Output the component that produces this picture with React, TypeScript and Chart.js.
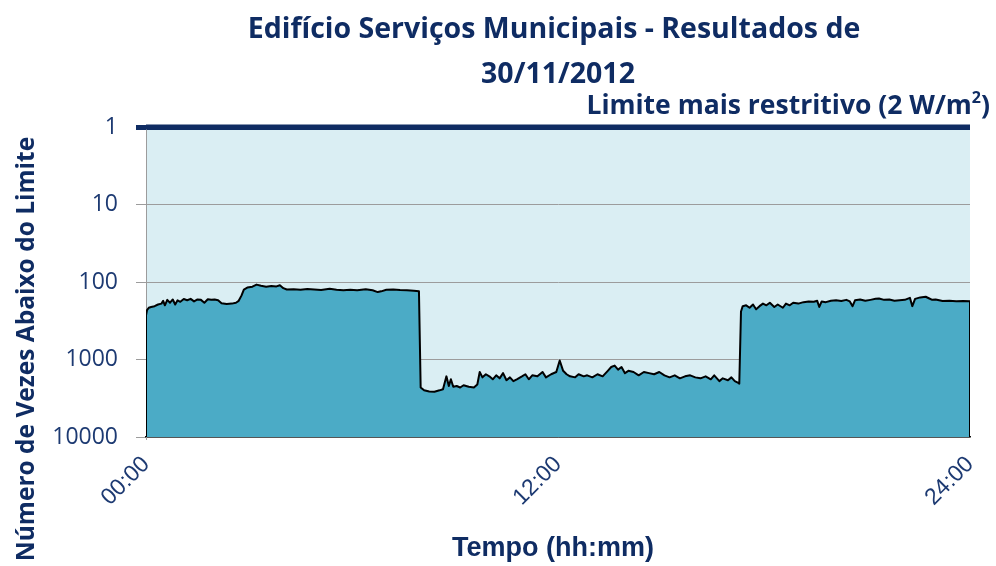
import React, { useEffect, useRef } from "react";
import { Chart, registerables } from "chart.js";

Chart.register(...registerables);

// ---- data ----
const TITLE_LINES = ["Edifício Serviços Municipais - Resultados de", "30/11/2012"];
const LIMIT_LABEL = "Limite mais restritivo (2 W/m";
const LIMIT_SUP = "2";
const LIMIT_TAIL = ")";
const Y_TITLE = "Número de Vezes Abaixo do Limite";
const X_TITLE = "Tempo (hh:mm)";

const X_TICKS = [0, 12, 24];
const X_TICK_LABELS = ["00:00", "12:00", "24:00"];
const Y_TICKS = [1, 10, 100, 1000, 10000];
const LIMIT = 1;

// time in hours
const TIMES = [
  0.0, 0.03, 0.08, 0.15, 0.25, 0.35, 0.45, 0.5, 0.55, 0.62, 0.7, 0.78, 0.85, 0.92, 1.0, 1.1, 1.2, 1.3, 1.4, 1.5,
  1.6, 1.7, 1.8, 1.9, 2.0, 2.1, 2.2, 2.35, 2.5, 2.62, 2.7, 2.78, 2.85, 2.95, 3.1, 3.22, 3.35, 3.5, 3.65, 3.8,
  3.9, 4.0, 4.1, 4.3, 4.5, 4.7, 4.9, 5.1, 5.35, 5.55, 5.75, 5.95, 6.15, 6.4, 6.6, 6.75, 6.85, 7.0, 7.2, 7.4,
  7.6, 7.8, 7.95, 8.0, 8.1, 8.25, 8.4, 8.55, 8.65, 8.75, 8.82, 8.88, 8.95, 9.05, 9.15, 9.25, 9.4, 9.55, 9.65, 9.72,
  9.8, 9.9, 10.0, 10.1, 10.2, 10.3, 10.4, 10.5, 10.6, 10.7, 10.8, 10.95, 11.05, 11.15, 11.25, 11.4, 11.55, 11.65, 11.8, 11.95,
  12.05, 12.15, 12.25, 12.35, 12.5, 12.6, 12.75, 12.85, 13.0, 13.15, 13.3, 13.45, 13.55, 13.65, 13.75, 13.85, 13.95, 14.05, 14.2, 14.35,
  14.5, 14.65, 14.8, 14.95, 15.1, 15.25, 15.4, 15.55, 15.7, 15.85, 16.0, 16.15, 16.3, 16.45, 16.55, 16.7, 16.8, 16.95, 17.05, 17.15,
  17.25, 17.28, 17.33, 17.38, 17.48, 17.58, 17.68, 17.77, 17.87, 17.97, 18.07, 18.17, 18.3, 18.4, 18.55, 18.64, 18.75, 18.85, 19.0, 19.15,
  19.3, 19.45, 19.55, 19.61, 19.68, 19.8, 19.95, 20.1, 20.25, 20.4, 20.5, 20.58, 20.65, 20.8, 20.95, 21.1, 21.25, 21.35, 21.5, 21.65,
  21.8, 21.95, 22.1, 22.25, 22.32, 22.4, 22.55, 22.71, 22.8, 22.9, 23.0, 23.2, 23.4, 23.6, 23.8, 24.0,
];

const VALUES = [
  270, 230, 215, 210, 205, 195, 190, 175, 200, 170, 185, 168, 195, 172, 180, 166, 172, 165, 178, 168,
  170, 185, 167, 170, 168, 172, 188, 192, 190, 185, 175, 150, 125, 118, 115, 108, 112, 115, 113, 114,
  110, 120, 125, 124, 126, 123, 125, 127, 122, 126, 128, 126, 128, 124, 128, 135, 132, 126, 125, 127,
  128, 130, 132, 2300, 2500, 2580, 2600, 2500, 2420, 1650, 2200, 1800, 2250, 2200, 2300, 2150, 2250, 2300, 2100, 1450,
  1700, 1550, 1650, 1800, 1600, 1750, 1500, 1850, 1700, 1900, 1800, 1650, 1550, 1800, 1600, 1650, 1450, 1700, 1550, 1450,
  1030, 1400, 1550, 1650, 1700, 1550, 1650, 1600, 1700, 1550, 1650, 1400, 1250, 1200, 1350, 1250, 1500, 1400, 1450, 1600,
  1450, 1500, 1550, 1450, 1600, 1700, 1600, 1750, 1650, 1600, 1700, 1750, 1650, 1800, 1600, 1900, 1750, 1850, 1700, 1900,
  2000, 2050, 240, 205, 200, 215, 195, 225, 205, 190, 200, 185, 210, 195, 215, 190, 200, 185, 190, 182,
  178, 180, 175, 210, 178, 182, 175, 172, 176, 170, 178, 205, 172, 168, 175, 170, 165, 163, 170, 168,
  175, 172, 170, 160, 205, 165, 158, 155, 162, 170, 168, 176, 175, 177, 176, 177,
];

const NAVY = "#0f2c63";
const TICK_NAVY = "#1d3a72";
const FILL = "#4babc6";
const PLOT_BG = "#daeef3";
const GRID = "#9c9c9c";

const textPlugin = {
  id: "texts",
  beforeDraw(chart: any) {
    const { ctx, chartArea } = chart;
    ctx.save();
    ctx.fillStyle = PLOT_BG;
    ctx.fillRect(chartArea.left, chartArea.top, chartArea.right - chartArea.left, chartArea.bottom - chartArea.top);
    ctx.restore();
  },
  afterDraw(chart: any) {
    const { ctx, chartArea } = chart;
    const cx = (chartArea.left + chartArea.right) / 2;
    ctx.save();
    ctx.fillStyle = NAVY;
    ctx.textBaseline = "alphabetic";
    // title
    ctx.font = 'bold 28.5px "Open Sans"';
    ctx.textAlign = "center";
    ctx.fillText(TITLE_LINES[0], cx - 4, 38);
    ctx.fillText(TITLE_LINES[1], cx, 83);
    // limit label (right aligned)
    const mainFont = 'bold 26.5px "Open Sans"';
    const supFont = 'bold 16px "Open Sans"';
    ctx.font = mainFont;
    const wMain = ctx.measureText(LIMIT_LABEL).width;
    const wTail = ctx.measureText(LIMIT_TAIL).width;
    ctx.font = supFont;
    const wSup = ctx.measureText(LIMIT_SUP).width;
    const right = 990;
    let x = right - wMain - wSup - wTail;
    ctx.textAlign = "left";
    ctx.font = mainFont;
    ctx.fillText(LIMIT_LABEL, x, 114);
    x += wMain;
    ctx.font = supFont;
    ctx.fillText(LIMIT_SUP, x, 103);
    x += wSup;
    ctx.font = mainFont;
    ctx.fillText(LIMIT_TAIL, x, 114);
    // y title
    ctx.save();
    ctx.translate(34, 349);
    ctx.rotate(-Math.PI / 2);
    ctx.textAlign = "center";
    ctx.font = 'bold 24.5px "Open Sans"';
    ctx.fillText(Y_TITLE, 0, 0);
    ctx.restore();
    // x title
    ctx.textAlign = "center";
    ctx.font = 'bold 27px "Liberation Sans"';
    ctx.fillText(X_TITLE, 553, 556);
    ctx.restore();
  },
};

export default function App() {
  const ref = useRef<HTMLCanvasElement>(null);
  useEffect(() => {
    document.body.style.margin = "0";
    const floor = Y_TICKS[Y_TICKS.length - 1];
    const pts = TIMES.map((t, i) => ({ x: t, y: VALUES[i] }));
    const areaData = [{ x: X_TICKS[0], y: floor }, ...pts, { x: X_TICKS[X_TICKS.length - 1], y: floor }];
    const limitData = [
      { x: X_TICKS[0], y: LIMIT },
      { x: X_TICKS[X_TICKS.length - 1], y: LIMIT },
    ];
    const chart = new Chart(ref.current!, {
      type: "line",
      data: {
        datasets: [
          {
            label: "Resultados",
            data: areaData,
            borderColor: "#000000",
            borderWidth: 2,
            backgroundColor: FILL,
            fill: { value: floor },
            pointRadius: 0,
            tension: 0,
            borderJoinStyle: "round",
          },
          {
            label: "Limite mais restritivo",
            data: limitData,
            borderColor: NAVY,
            borderWidth: 5,
            pointRadius: 0,
            fill: false,
            clip: false,
          },
        ],
      },
      options: {
        animation: false,
        responsive: false,
        events: [],
        layout: { padding: { top: 127, right: 26, left: 0, bottom: 0 } },
        plugins: { legend: { display: false }, title: { display: false }, tooltip: { enabled: false } },
        scales: {
          x: {
            type: "linear",
            min: X_TICKS[0],
            max: X_TICKS[X_TICKS.length - 1],
            afterBuildTicks: (s: any) => {
              s.ticks = X_TICKS.map((v) => ({ value: v }));
            },
            afterFit: (s: any) => {
              s.height = 129;
              s.paddingLeft = 0;
              s.paddingRight = 0;
            },
            ticks: {
              autoSkip: false,
              minRotation: 45,
              maxRotation: 45,
              padding: 6,
              color: TICK_NAVY,
              font: { family: '"Liberation Sans"', size: 23 },
              callback: (v: any) => X_TICK_LABELS[X_TICKS.indexOf(Number(v))] ?? "",
            },
            grid: { display: false },
            border: { display: true, color: "#111111", width: 1.5 },
          },
          y: {
            type: "logarithmic",
            reverse: true,
            min: Y_TICKS[0],
            max: Y_TICKS[Y_TICKS.length - 1],
            afterBuildTicks: (s: any) => {
              s.ticks = Y_TICKS.map((v) => ({ value: v }));
            },
            afterFit: (s: any) => {
              s.width = 146;
            },
            ticks: {
              autoSkip: false,
              padding: 18,
              color: TICK_NAVY,
              font: { family: '"Open Sans"', size: 23 },
              callback: (v: any) => String(v),
            },
            grid: {
              color: (c: any) => (c.tick && c.tick.value === LIMIT ? NAVY : GRID),
              lineWidth: (c: any) => (c.tick && c.tick.value === LIMIT ? 5 : 1),
              tickLength: 10,
            },
            border: { display: true, color: GRID, width: 1 },
          },
        },
      },
      plugins: [textPlugin],
    });
    return () => chart.destroy();
  }, []);
  return (
    <div style={{ width: 996, height: 566 }}>
      <canvas ref={ref} width={996} height={566} style={{ display: "block" }} />
    </div>
  );
}
